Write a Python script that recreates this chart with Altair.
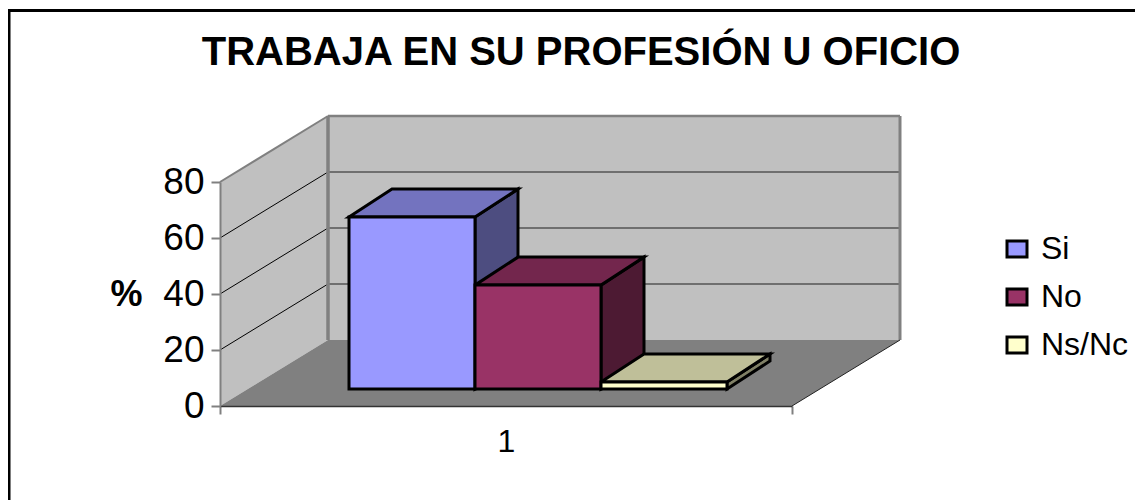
import altair as alt
import pandas as pd

# ---- values ----
SERIES = ["Si", "No", "Ns/Nc"]
VALUES = [61.4, 37.1, 2.5]
TICKS = [0, 20, 40, 60, 80]
GRID = [20, 40, 60]
CATEGORY_LABEL = "1"
TITLE = "TRABAJA EN SU PROFESIÓN U OFICIO"
FRONT = ["#9999FF", "#993366", "#FFFFCC"]
TOP = ["#7373BF", "#73264D", "#BFBF99"]
SIDE = ["#4D4D80", "#4D1A33", "#808066"]

# ---- geometry of the oblique projection (px on x, value units on y) ----
PX = 2.8
W, H = 572, 224
WALL_DX, WALL_DY = 108, 66 / PX
BAR_DX, BAR_DY = 43, 28 / PX
BAR_X0, BAR_W = 129, 126
BAR_BASE = 17 / PX
YMAX = 80

X = alt.X("x:Q", scale=alt.Scale(domain=[0, W], nice=False, zero=False),
          axis=alt.Axis(values=[0, W / 2, W], title=None, grid=False,
                        labelExpr=f"datum.value == {W/2} ? '{CATEGORY_LABEL}' : ''",
                        labelFont="Liberation Sans", labelFontSize=32, labelColor="black",
                        labelPadding=12, labelFlush=False, labelOverlap=False,
                        tickSize=8, tickColor="#808080", tickWidth=2,
                        tickOpacity=alt.expr(f"datum.value == {W/2} ? 0 : 1"),
                        domainColor="#333333", domainWidth=1.5, zindex=1))
Y = alt.Y("y:Q", scale=alt.Scale(domain=[0, YMAX], nice=False, zero=False),
          axis=alt.Axis(values=TICKS, title="%", grid=False,
                        labelFont="Liberation Sans", labelFontSize=37, labelColor="black",
                        labelPadding=7, tickSize=9, tickColor="#808080", tickWidth=2,
                        domainColor="#808080", domainWidth=2, zindex=1,
                        titleFont="Liberation Sans", titleFontWeight="bold", titleFontSize=36,
                        titleColor="black", titleAngle=0, titleAlign="center",
                        titleBaseline="middle", titleX=-94, titleY=112))


def poly_rows(name, color, pts):
    return [{"face": name, "fill": color, "i": i, "x": p[0], "y": p[1]} for i, p in enumerate(pts)]


# walls and floor
shell = []
shell += poly_rows("side", "#C0C0C0", [(0, 0), (WALL_DX, WALL_DY), (WALL_DX, YMAX + WALL_DY), (0, YMAX)])
shell += poly_rows("back", "#C0C0C0", [(WALL_DX, WALL_DY), (W + WALL_DX, WALL_DY),
                                       (W + WALL_DX, YMAX + WALL_DY), (WALL_DX, YMAX + WALL_DY)])
shell += poly_rows("floor", "#808080", [(0, 0), (W, 0), (W + WALL_DX, WALL_DY), (WALL_DX, WALL_DY)])

poly_kw = dict(x=X, y=Y, fill=alt.Fill("fill:N", scale=None),
               detail="face:N", order="i:Q")
shell_layer = alt.Chart(pd.DataFrame(shell)).mark_line(
    interpolate="linear-closed", strokeWidth=0, stroke="#C0C0C0", strokeOpacity=0
).encode(**poly_kw)

# grid lines
side_grid = pd.DataFrame([{"x": 0, "x1": WALL_DX, "y": g, "y1": g + WALL_DY} for g in GRID])
back_grid = pd.DataFrame([{"x": WALL_DX, "x1": W + WALL_DX, "y": g + WALL_DY, "y1": g + WALL_DY} for g in GRID])
rule_kw = dict(x=X, x2="x1:Q", y=Y, y2="y1:Q")
side_grid_layer = alt.Chart(side_grid).mark_rule(color="#000000", strokeWidth=1).encode(**rule_kw)
back_grid_layer = alt.Chart(back_grid).mark_rule(color="#555555", strokeWidth=1.5).encode(**rule_kw)

# wall edges
edges = pd.DataFrame([
    {"x": 0, "x1": WALL_DX, "y": YMAX, "y1": YMAX + WALL_DY, "w": 2},
    {"x": WALL_DX, "x1": W + WALL_DX, "y": YMAX + WALL_DY, "y1": YMAX + WALL_DY, "w": 2.5},
    {"x": WALL_DX, "x1": WALL_DX, "y": WALL_DY, "y1": YMAX + WALL_DY, "w": 3.5},
    {"x": W + WALL_DX, "x1": W + WALL_DX, "y": WALL_DY, "y1": YMAX + WALL_DY, "w": 3},
])
edge_layer = alt.Chart(edges).mark_rule(color="#808080").encode(
    **rule_kw, strokeWidth=alt.StrokeWidth("w:Q", scale=None))
floor_edge = pd.DataFrame([{"x": W, "x1": W + WALL_DX, "y": 0, "y1": WALL_DY}])
floor_edge_layer = alt.Chart(floor_edge).mark_rule(color="#222222", strokeWidth=1).encode(**rule_kw)

# bars: top and side faces, then the front faces
faces, fronts = [], []
for k, (name, v) in enumerate(zip(SERIES, VALUES)):
    x0 = BAR_X0 + k * BAR_W
    x1 = x0 + BAR_W
    b, t = BAR_BASE, BAR_BASE + v
    faces += poly_rows(f"{k}a-side", SIDE[k], [(x1, b), (x1 + BAR_DX, b + BAR_DY), (x1 + BAR_DX, t + BAR_DY), (x1, t)])
    faces += poly_rows(f"{k}b-top", TOP[k], [(x0, t), (x1, t), (x1 + BAR_DX, t + BAR_DY), (x0 + BAR_DX, t + BAR_DY)])
    fronts.append({"serie": name, "x": x0, "x1": x1, "y": b, "y1": t})

face_layer = alt.Chart(pd.DataFrame(faces)).mark_line(
    interpolate="linear-closed", stroke="black", strokeWidth=3, strokeJoin="miter"
).encode(**poly_kw)

front_layer = alt.Chart(pd.DataFrame(fronts)).mark_rect(stroke="black", strokeWidth=3).encode(
    **rule_kw,
    color=alt.Color("serie:N",
                    scale=alt.Scale(domain=SERIES, range=FRONT),
                    legend=alt.Legend(title=None, orient="none", legendX=781, legendY=51,
                                      symbolType="M-1,-0.8H1V0.8H-1Z", symbolSize=400,
                                      symbolStrokeColor="black", symbolStrokeWidth=3,
                                      labelFont="Liberation Sans", labelFontSize=32, labelColor="black",
                                      labelOffset=8, rowPadding=16, symbolOpacity=1)),
)

# outer frame of the chart (left and top sides, the rest runs out of the picture)
frame_left = alt.Chart(pd.DataFrame({"a": [0]})).mark_rule(color="black", strokeWidth=3).encode(
    x=alt.value(-211), y=alt.value(-172), y2=alt.value(318))
frame_top = alt.Chart(pd.DataFrame({"a": [0]})).mark_rule(color="black", strokeWidth=3).encode(
    x=alt.value(-212), x2=alt.value(915), y=alt.value(-171.5))

chart = alt.layer(
    shell_layer, side_grid_layer, back_grid_layer, edge_layer, floor_edge_layer,
    face_layer, front_layer, frame_left, frame_top,
).properties(
    width=W, height=H,
    padding={"left": 212, "top": 174, "right": 343, "bottom": 94},
    autosize=alt.AutoSizeParams(type="none"),
    title=alt.TitleParams(TITLE, font="Liberation Sans", fontWeight="bold", fontSize=40,
                          color="black", anchor="middle", dx=75, offset=-96, baseline="alphabetic"),
    background="white",
).configure_view(stroke=None)

chart.save("out.html", embed_options={"renderer": "svg", "actions": False})
